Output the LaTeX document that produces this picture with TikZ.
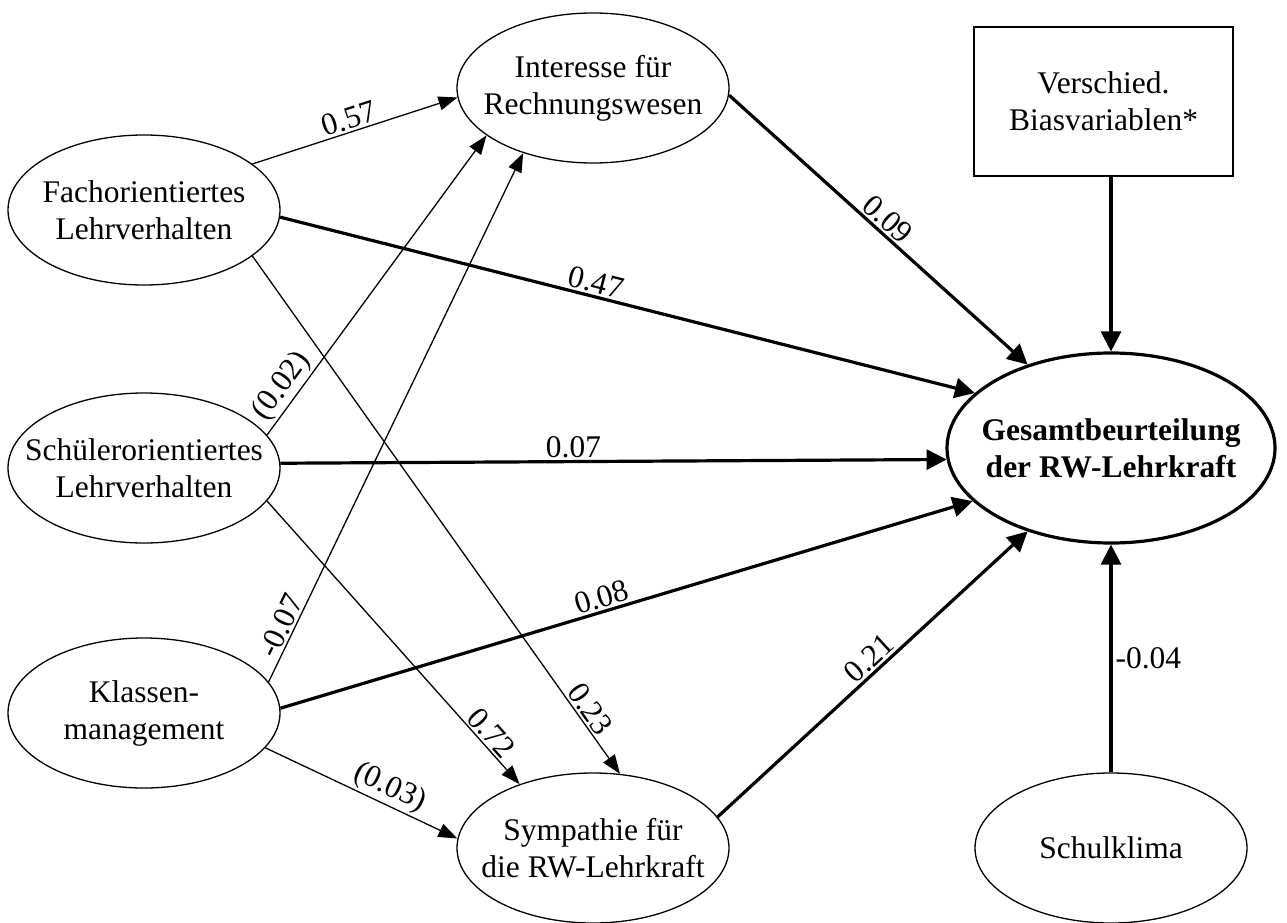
\documentclass[tikz,border=0pt]{standalone}
\usepackage{fontspec}
\setmainfont{Liberation Serif}
\usetikzlibrary{arrows.meta,shapes.geometric}
\begin{document}
\begin{tikzpicture}[x=1pt,y=-1pt,
  every node/.style={font=\fontsize{31.5}{37}\selectfont},
  lat/.style={ellipse, draw, line width=1.3pt, minimum width=272pt, minimum height=150pt, inner xsep=-25pt, inner ysep=0pt, align=center},
  main/.style={ellipse, draw, line width=3.2pt, minimum width=328pt, minimum height=190pt, inner xsep=-25pt, inner ysep=0pt, align=center, font=\fontsize{31.5}{37}\selectfont\bfseries},
  boxnode/.style={rectangle, draw, line width=1.3pt, minimum width=259pt, minimum height=149pt, inner sep=0pt, align=center},
  thinarr/.style={line width=1.3pt, -{Triangle[length=19pt,width=14pt]}},
  thickarr/.style={line width=3.2pt, -{Triangle[length=20pt,width=20pt]}},
  lbl/.style={sloped, above, inner sep=2pt}
]
\useasboundingbox (0,0) rectangle (1287,923);

\node[lat] (fach) at (144,210) {Fachorientiertes\\Lehrverhalten};
\node[lat] (schueler) at (144,468) {Schülerorientiertes\\Lehrverhalten};
\node[lat] (klassen) at (144,713) {Klassen-\\management};
\node[lat] (interesse) at (593,88) {Interesse für\\Rechnungswesen};
\node[lat] (sympathie) at (593,848) {Sympathie für\\die RW-Lehrkraft};
\node[lat] (klima) at (1111,848) {Schulklima};
\node[main] (gesamt) at (1111,448) {Gesamtbeurteilung\\der RW-Lehrkraft};
\node[boxnode] (bias) at (1103.5,101.5) {Verschied.\\Biasvariablen*};

% to Interesse
\draw[thinarr] (fach.23.3) -- (interesse.184) node[lbl, pos=0.49] {0.57};
\draw[thinarr] (schueler.15.9) -- (interesse.204.4) node[lbl, pos=0.13] {(0.02)};
\draw[thinarr] (klassen.14.9) -- (interesse.223.3) node[lbl, pos=0.095] {-0.07};

% to Sympathie
\draw[thinarr] (fach.-23.3) -- (sympathie.70.2) node[lbl, pos=0.89] {0.23};
\draw[thinarr] (schueler.-15.9) -- (sympathie.139.2) node[lbl, pos=0.85] {0.72};
\draw[thinarr] (klassen.-16) -- (sympathie.176.6) node[lbl, pos=0.61] {(0.03)};

% to Gesamt
\draw[thickarr] (interesse.-3) -- (gesamt.135.3) node[lbl, pos=0.5] {0.09};
\draw[thickarr] (fach.-3) -- (gesamt.158.3) node[lbl, pos=0.45] {0.47};
\draw[thickarr] (schueler.2.5) -- (gesamt.184.9) node[lbl, pos=0.44] {0.07};
\draw[thickarr] (klassen.2.5) -- (gesamt.201.7) node[lbl, pos=0.47] {0.08};
\draw[thickarr] (sympathie.14.9) -- (gesamt.225.3) node[lbl, pos=0.52] {0.21};
\draw[thickarr] (gesamt.north |- bias.south) -- (gesamt.north);
\draw[thickarr] (klima.north) -- (gesamt.south) node[midway, right, inner sep=3pt] {-0.04};
\end{tikzpicture}
\end{document}
